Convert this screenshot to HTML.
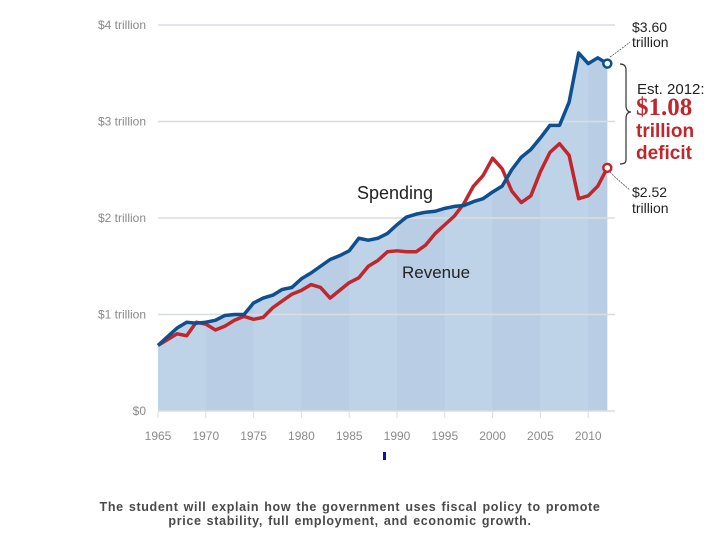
<!DOCTYPE html>
<html><head><meta charset="utf-8"><style>
body{margin:0;background:#fff;width:720px;height:540px;overflow:hidden;font-family:"Liberation Sans",sans-serif}
svg{position:absolute;left:0;top:0}
#cap{position:absolute;left:0;width:700px;top:500px;text-align:center;font:bold 12.5px "Liberation Sans",sans-serif;color:#4a4a4a;line-height:14px;letter-spacing:0.65px;word-spacing:1px}
</style></head><body>
<svg id="chart" width="720" height="540"></svg>
<div id="cap">The student will explain how the government uses fiscal policy to promote<br>price stability, full employment, and economic growth.</div>
<script>
const years=[1965,1966,1967,1968,1969,1970,1971,1972,1973,1974,1975,1976,1977,1978,1979,1980,1981,1982,1983,1984,1985,1986,1987,1988,1989,1990,1991,1992,1993,1994,1995,1996,1997,1998,1999,2000,2001,2002,2003,2004,2005,2006,2007,2008,2009,2010,2011,2012];
const spending=[0.68,0.77,0.86,0.92,0.91,0.92,0.94,0.99,1.0,1.0,1.12,1.17,1.2,1.26,1.28,1.37,1.43,1.5,1.57,1.61,1.66,1.79,1.77,1.79,1.84,1.93,2.01,2.04,2.06,2.07,2.1,2.12,2.13,2.17,2.2,2.27,2.33,2.5,2.63,2.71,2.83,2.96,2.96,3.2,3.71,3.6,3.66,3.6];
const revenue=[0.68,0.74,0.8,0.78,0.92,0.9,0.84,0.88,0.94,0.98,0.95,0.97,1.07,1.14,1.21,1.25,1.31,1.28,1.17,1.25,1.33,1.38,1.5,1.56,1.65,1.66,1.65,1.65,1.72,1.84,1.93,2.02,2.15,2.33,2.44,2.62,2.51,2.28,2.16,2.23,2.48,2.68,2.77,2.65,2.2,2.23,2.33,2.52];
const yTicks=[0,1,2,3,4];
const yLabels=["$0","$1 trillion","$2 trillion","$3 trillion","$4 trillion"];
const xTicks=[1965,1970,1975,1980,1985,1990,1995,2000,2005,2010];
const X=y=>158+(y-1965)*9.56;
const Y=v=>411-v*96.5;
const svg=document.getElementById('chart');
const NS='http://www.w3.org/2000/svg';
function mk(t,a,p){const e=document.createElementNS(NS,t);for(const k in a)e.setAttribute(k,a[k]);(p||svg).appendChild(e);return e;}
let d='M'+X(years[0])+','+Y(0);
years.forEach((y,i)=>d+=' L'+X(y)+','+Y(spending[i]));
d+=' L'+X(years[years.length-1])+','+Y(0)+'Z';
let a=mk('path',{d:d,fill:'#bfd3e8'});

xTicks.forEach((t,i)=>{if(i%2==1){mk('rect',{x:X(t),y:0,width:X(t+5)-X(t),height:411,fill:'#b3c9e2',opacity:0.5,'clip-path':'url(#cp)'});}});
const defs=mk('defs',{});const cp=mk('clipPath',{id:'cp'},defs);mk('path',{d:d},cp);
yTicks.forEach((v,i)=>{
 let l=mk('line',{x1:158,x2:615,y1:Y(v),y2:Y(v),stroke:'#d8dde3','stroke-width':1.5});
 
 let t=mk('text',{x:146,y:Y(v)+4,'text-anchor':'end','font-size':12,fill:'#8a8a8a'});t.textContent=yLabels[i];
 
});
xTicks.forEach(v=>{
 mk('line',{x1:X(v),x2:X(v),y1:411,y2:418,stroke:'#d8dde3'});
 let t=mk('text',{x:X(v),y:440,'text-anchor':'middle','font-size':12,fill:'#8a8a8a'});t.textContent=v;
 
});
function line(vals,col,name){
 let p=mk('polyline',{points:years.map((y,i)=>X(y)+','+Y(vals[i])).join(' '),fill:'none',stroke:col,'stroke-width':3.5,'stroke-linejoin':'round'});
 
 const n=years.length-1;
 let c=mk('circle',{cx:X(years[n]),cy:Y(vals[n]),r:4,fill:'#fff',stroke:col,'stroke-width':2.5});
 
}
line(revenue,'#c0272d','revenue-line');
line(spending,'#0d4f8f','spending-line');
function txt(x,y,s,sz,col,w,name,fam){let t=mk('text',{x:x,y:y,'font-size':sz,fill:col,'font-weight':w||'normal','font-family':fam||'Liberation Sans'});t.textContent=s;return t;}
txt(357,199,'Spending',18,'#222','normal','spending-label');
txt(402,278,'Revenue',17,'#222','normal','revenue-label');
mk('path',{d:'M610,57 Q620,50 630,42',fill:'none',stroke:'#555','stroke-width':0.8,'stroke-dasharray':'2,1'});
mk('path',{d:'M610,172 Q620,182 630,190',fill:'none',stroke:'#555','stroke-width':0.8,'stroke-dasharray':'2,1'});
mk('path',{d:'M620,64 Q626,64 626,70 L626,105 Q626,112 631,112 Q626,112 626,119 L626,160 Q626,164 620,164',fill:'none',stroke:'#333','stroke-width':1.2});
txt(632,32,'$3.60',14,'#222','normal','spending-value');
txt(632,47,'trillion',14,'#222','normal','spending-unit');
txt(637,94,'Est. 2012:',15,'#222','normal','est-label');
txt(636,115,'$1.08',25,'#c0272d','bold','deficit-value','Liberation Serif');
txt(636,137,'trillion',19,'#c0272d','bold','deficit-unit');
txt(636,159,'deficit',19,'#c0272d','bold','deficit-word');
txt(632,197,'$2.52',14,'#222','normal','revenue-value');
txt(632,213,'trillion',14,'#222','normal','revenue-unit');
let m=mk('rect',{x:383,y:452,width:3,height:8,fill:'#1010b0'});

</script>
</body></html>
